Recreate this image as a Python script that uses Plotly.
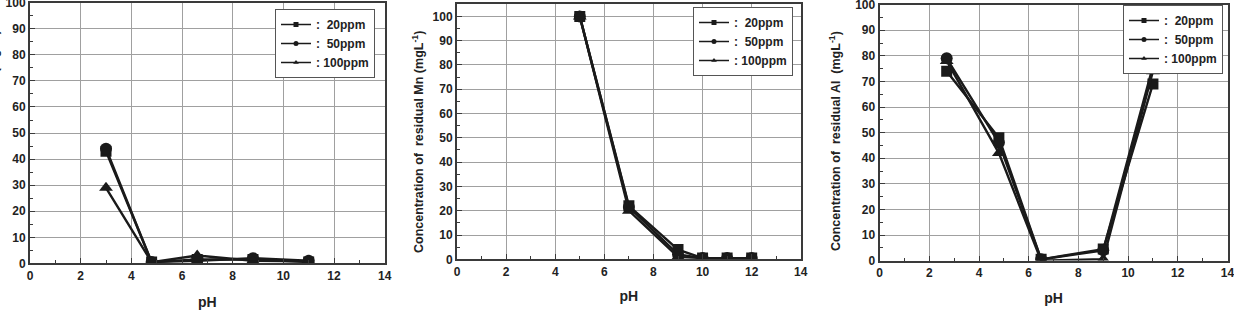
import plotly.graph_objects as go

W, H = 1234, 313

# ---------------- data ----------------
series_names = [":  20ppm", ":  50ppm", ": 100ppm"]
series_symbols = ["square", "circle", "triangle-up"]

fe_ph = [3.0, 4.8, 6.6, 8.8, 11.0]
fe_20 = [43, 0.5, 1.5, 1.5, 0.5]
fe_50 = [44, 0.5, 1.0, 2.0, 1.0]
fe_100 = [29, 0.5, 3.0, 1.0, 0.8]

mn_ph = [5, 7, 9, 10, 11, 12]
mn_20 = [100, 22, 4, 0.5, 0.5, 0.5]
mn_50 = [100, 21.5, 2, 0.5, 0.5, 0.5]
mn_100 = [100, 20, 1, 0.5, 0.5, 0.5]

al_ph = [2.7, 4.8, 6.5, 9.0, 11.0]
al_20 = [74, 48, 0.5, 4.5, 69]
al_50 = [79, 46, 0.5, 4.0, 76]
al_100 = [78, 42, 0.0, 0.5, 74]

x_ticks = [0, 2, 4, 6, 8, 10, 12, 14]
y_ticks = [0, 10, 20, 30, 40, 50, 60, 70, 80, 90, 100]

y_titles = ["Concentration of  residual Fe (mgL<sup>-1</sup>)",
            "Concentration of  residual Mn (mgL<sup>-1</sup>)",
            "Concentration of  residual Al  (mgL<sup>-1</sup>)"]

panels = [
    dict(x=fe_ph, ys=[fe_20, fe_50, fe_100], ymax=100,
         xd=[30 / W, 384.7 / W], yd=[(H - 263.4) / H, (H - 2.7) / H],
         leg=(375 / W, 1 - 9 / H), tx=-7, ty=140, pst=15),
    dict(x=mn_ph, ys=[mn_20, mn_50, mn_100], ymax=105.1,
         xd=[457 / W, 800.8 / W], yd=[(H - 259.3) / H, (H - 4) / H],
         leg=(793 / W, 1 - 7 / H), tx=418, ty=142, pst=13),
    dict(x=al_ph, ys=[al_20, al_50, al_100], ymax=100,
         xd=[879.6 / W, 1227.5 / W], yd=[(H - 260.6) / H, (H - 4.6) / H],
         leg=(1223 / W, 1 - 5 / H), tx=835, ty=141, pst=14),
]

FONT = "Liberation Sans, Arial, sans-serif"
INK = "#1a1a1a"
TXT = "#222"
marker_sizes = [11, 12, 12]

fig = go.Figure()
layout = dict(
    width=W, height=H, margin=dict(l=0, r=0, t=0, b=0),
    paper_bgcolor="white", plot_bgcolor="white", showlegend=True,
    font=dict(family=FONT, color=TXT, size=12, weight="bold"),
)
annotations = []

for i, p in enumerate(panels):
    n = "" if i == 0 else str(i + 1)
    legname = "legend" if i == 0 else f"legend{i + 1}"
    for name, sym, ys, ms in zip(series_names, series_symbols, p["ys"], marker_sizes):
        fig.add_trace(go.Scatter(
            x=p["x"], y=ys, name=name, mode="lines+markers",
            line=dict(color=INK, width=2.4),
            marker=dict(symbol=sym, size=ms, color=INK),
            xaxis="x" + n, yaxis="y" + n, showlegend=False,
        ))
    # legend-only entries with small symbols, as in the reference legend
    for name, sym in zip(series_names, series_symbols):
        fig.add_trace(go.Scatter(
            x=[None], y=[None], name=name, mode="lines+markers",
            line=dict(color=INK, width=1.5),
            marker=dict(symbol=sym, size=5, color=INK),
            xaxis="x" + n, yaxis="y" + n, legend=legname, showlegend=True,
        ))
    layout["xaxis" + n] = dict(
        domain=p["xd"], range=[0, 14.0005], tickvals=x_ticks, anchor="y" + n,
        showgrid=True, gridcolor="#a0a0a0", gridwidth=1,
        showline=True, mirror=True, linecolor="#3a3a3a", linewidth=2,
        ticks="inside", ticklen=5, tickcolor="#3a3a3a",
        minor=dict(dtick=1, ticks="inside", ticklen=3, tickcolor="#3a3a3a", showgrid=False),
        tickfont=dict(size=12, family=FONT, weight="bold", color=TXT),
        ticklabeloverflow="allow",
        title=dict(text="pH", font=dict(size=14, family=FONT, weight="bold", color=TXT),
                   standoff=p["pst"]),
        zeroline=False, automargin=False,
    )
    layout["yaxis" + n] = dict(
        domain=p["yd"], range=[0, p["ymax"]], tickvals=y_ticks, anchor="x" + n,
        showgrid=True, gridcolor="#a0a0a0", gridwidth=1,
        showline=True, mirror=True, linecolor="#3a3a3a", linewidth=2,
        ticks="inside", ticklen=5, tickcolor="#3a3a3a",
        minor=dict(dtick=5, ticks="inside", ticklen=3, tickcolor="#3a3a3a", showgrid=False),
        tickfont=dict(size=12, family=FONT, weight="bold", color=TXT),
        ticklabeloverflow="allow",
        zeroline=False, automargin=False,
    )
    annotations.append(dict(
        text=y_titles[i], textangle=-90, showarrow=False,
        xref="paper", yref="paper", x=p["tx"] / W, y=1 - p["ty"] / H,
        xanchor="center", yanchor="middle",
        font=dict(size=12.5, family=FONT, weight="bold", color=TXT),
    ))
    layout[legname] = dict(
        x=p["leg"][0], y=p["leg"][1], xanchor="right", yanchor="top",
        xref="paper", yref="paper",
        bgcolor="white", bordercolor="#555", borderwidth=1,
        font=dict(size=12, family=FONT, weight="bold", color=TXT),
        tracegroupgap=0, itemwidth=30,
    )

layout["annotations"] = annotations
fig.update_layout(**layout)
fig.write_html("out.html")
